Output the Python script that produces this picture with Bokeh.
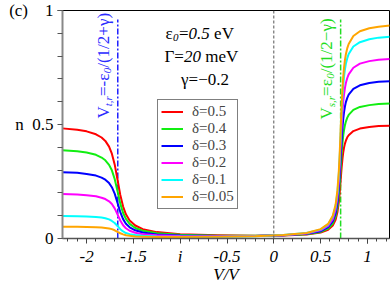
from bokeh.plotting import figure
from bokeh.models import Label, Legend, LegendItem, FixedTicker, Range1d, Span
from bokeh.embed import file_html
from bokeh.resources import INLINE

# ---------------- data ----------------
V = [-2.26, -2.10, -2.00, -1.90, -1.84, -1.80, -1.76, -1.73, -1.70, -1.67,
     -1.64, -1.61, -1.58, -1.54, -1.48, -1.40, -1.25, -1.00, -0.60, -0.20,
     0.10, 0.35, 0.50, 0.58, 0.63, 0.66, 0.68, 0.695, 0.705, 0.715,
     0.725, 0.735, 0.742, 0.75, 0.76, 0.77, 0.785, 0.80, 0.85, 0.92,
     1.02, 1.12, 1.24]

n_d050 = [0.483, 0.477, 0.470, 0.457, 0.443, 0.428, 0.403, 0.372, 0.325, 0.259,
          0.191, 0.140, 0.106, 0.079, 0.057, 0.041, 0.028, 0.019, 0.014, 0.012,
          0.013, 0.018, 0.026, 0.038, 0.057, 0.082, 0.116, 0.161, 0.206, 0.260,
          0.313, 0.355, 0.378, 0.398, 0.416, 0.429, 0.444, 0.453, 0.471, 0.482,
          0.489, 0.493, 0.495]
n_d040 = [0.387, 0.383, 0.377, 0.367, 0.355, 0.343, 0.323, 0.299, 0.261, 0.208,
          0.153, 0.112, 0.086, 0.064, 0.046, 0.034, 0.023, 0.016, 0.012, 0.012,
          0.014, 0.019, 0.029, 0.044, 0.066, 0.097, 0.137, 0.192, 0.245, 0.310,
          0.374, 0.425, 0.452, 0.475, 0.497, 0.513, 0.530, 0.542, 0.564, 0.577,
          0.585, 0.590, 0.592]
n_d030 = [0.291, 0.288, 0.283, 0.276, 0.267, 0.258, 0.243, 0.225, 0.197, 0.157,
          0.116, 0.085, 0.065, 0.049, 0.036, 0.026, 0.018, 0.013, 0.011, 0.011,
          0.014, 0.021, 0.032, 0.050, 0.076, 0.111, 0.158, 0.222, 0.285, 0.361,
          0.435, 0.494, 0.525, 0.553, 0.579, 0.598, 0.617, 0.631, 0.656, 0.672,
          0.682, 0.687, 0.690]
n_d020 = [0.195, 0.193, 0.190, 0.185, 0.179, 0.173, 0.163, 0.151, 0.132, 0.106,
          0.079, 0.058, 0.045, 0.034, 0.025, 0.019, 0.014, 0.011, 0.010, 0.011,
          0.014, 0.022, 0.036, 0.055, 0.085, 0.126, 0.180, 0.252, 0.324, 0.411,
          0.495, 0.563, 0.599, 0.631, 0.660, 0.682, 0.704, 0.720, 0.749, 0.767,
          0.778, 0.784, 0.787]
n_d010 = [0.099, 0.098, 0.097, 0.094, 0.092, 0.089, 0.084, 0.077, 0.068, 0.055,
          0.041, 0.031, 0.024, 0.019, 0.015, 0.012, 0.009, 0.008, 0.008, 0.010,
          0.015, 0.024, 0.039, 0.061, 0.095, 0.140, 0.201, 0.283, 0.364, 0.461,
          0.556, 0.632, 0.673, 0.709, 0.742, 0.766, 0.791, 0.809, 0.842, 0.861,
          0.874, 0.881, 0.885]
n_d005 = [0.051, 0.051, 0.050, 0.049, 0.048, 0.046, 0.044, 0.041, 0.036, 0.029,
          0.023, 0.018, 0.014, 0.012, 0.009, 0.008, 0.007, 0.007, 0.008, 0.010,
          0.015, 0.024, 0.041, 0.064, 0.100, 0.148, 0.212, 0.298, 0.383, 0.486,
          0.587, 0.667, 0.710, 0.748, 0.782, 0.808, 0.835, 0.853, 0.888, 0.909,
          0.922, 0.929, 0.934]

series = [n_d050, n_d040, n_d030, n_d020, n_d010, n_d005]
legend_labels = ["δ=0.5", "δ=0.4", "δ=0.3", "δ=0.2", "δ=0.1", "δ=0.05"]
colors = ["#ff0000", "#11ee11", "#0000ff", "#ff00ff", "#00ffff", "#ffa500"]

v_tr = -1.667      # -eps0/(1/2+gamma)
v_sr = 0.714       # eps0/(1/2-gamma)
marker_top = 0.96

x_ticks = [-2, -1.5, -1, -0.5, 0, 0.5, 1, 1.0001]
x_tick_labels = ["-2", "-1.5", "i", "-0.5", "0", "0.5", "1", ""]
x_minor = [-2.2, -2.1, -1.9, -1.8, -1.7, -1.6, -1.4, -1.3, -1.2, -1.1,
           -0.9, -0.8, -0.7, -0.6, -0.4, -0.3, -0.2, -0.1, 0.1, 0.2,
           0.3, 0.4, 0.6, 0.7, 0.8, 0.9, 1.1, 1.2]
NB = "\u00a0"
y_ticks = [0, 0.5, 1, 0.9999]
# the quantity name "n" and the panel tag "(c)" sit on the rows of 0.5 and 1
y_tick_labels = ["0", "n" + NB * 2 + "0.5", "(c)" + NB * 4 + "1", ""]
y_minor = [0.1, 0.2, 0.3, 0.4, 0.6, 0.7, 0.8, 0.9]

# ---------------- layout ----------------
W, H = 390, 290
BL, BR, BT, BB = 62, 1, 10, 52
XR0, XR1 = -2.2575, 1.2361
FONT = "Liberation Serif"

p = figure(width=W, height=H, output_backend="svg", toolbar_location=None,
           x_range=Range1d(XR0, XR1), y_range=Range1d(0, 1),
           min_border_left=BL, min_border_right=BR,
           min_border_top=BT, min_border_bottom=BB)
p.grid.visible = False
p.outline_line_color = "black"
p.outline_line_width = 1
p.background_fill_color = "white"
p.border_fill_color = "white"

# canvas pixel -> data helpers
FL, FR, FT, FB = BL, W - BR, BT, H - BB


def dx(px):
    return XR0 + (px - FL) * (XR1 - XR0) / (FR - FL)


def dy(py):
    return (FB - py) / (FB - FT)


# x axis
xa = p.xaxis[0]
xa.ticker = FixedTicker(ticks=x_ticks, minor_ticks=x_minor)
xa.major_label_overrides = {t: s for t, s in zip(x_ticks, x_tick_labels)}
xa.major_label_text_font = FONT
xa.major_label_text_font_style = "italic"
xa.major_label_text_font_size = "17px"
xa.major_label_text_color = "black"
xa.major_label_standoff = 3
xa.axis_line_color = "#555555"
xa.axis_line_width = 1.5
xa.major_tick_in = 0
xa.major_tick_out = 5
xa.minor_tick_in = 0
xa.minor_tick_out = 3
xa.major_tick_line_color = "#444444"
xa.minor_tick_line_color = "#444444"
xa.axis_label = "V/V"
xa.axis_label_text_font = FONT
xa.axis_label_text_font_style = "italic"
xa.axis_label_text_font_size = "17px"
xa.axis_label_text_color = "black"
xa.axis_label_standoff = -4

# y axis with its labels
ya = p.yaxis[0]
ya.ticker = FixedTicker(ticks=y_ticks, minor_ticks=y_minor)
ya.major_label_overrides = {t: s for t, s in zip(y_ticks, y_tick_labels)}
ya.major_label_text_font = FONT
ya.major_label_text_font_size = "17px"
ya.major_label_text_color = "black"
ya.major_label_standoff = 4
ya.axis_line_color = "#888888"
ya.axis_line_width = 2
ya.major_tick_in = 0
ya.major_tick_out = 5
ya.minor_tick_in = 0
ya.minor_tick_out = 5
ya.major_tick_line_color = "#555555"
ya.minor_tick_line_color = "#555555"

# zero bias line
p.add_layout(Span(location=0, dimension="height", line_color="#555555",
                  line_dash="3 2", line_width=1))

# threshold lines
p.line([v_tr, v_tr], [0, marker_top], line_color="#2222ff", line_width=1.5,
       line_dash="6 2 2 2")
p.line([v_sr, v_sr], [0, marker_top], line_color="#22dd22", line_width=1.5,
       line_dash="6 2 2 2")

# curves
items = []
for ys, lab, c in zip(series, legend_labels, colors):
    r = p.line(V, ys, line_color=c, line_width=2, line_join="round")
    items.append(LegendItem(label=lab, renderers=[r]))

legend = Legend(items=items, location=(157 - FL, FB - 209),
                label_text_font=FONT, label_text_font_size="15px",
                glyph_width=22, glyph_height=17, label_height=17,
                label_standoff=9, spacing=0, padding=3, margin=0,
                border_line_color="black", border_line_width=1.5,
                background_fill_color="white", background_fill_alpha=1)
p.add_layout(legend)


def txt(s, px, py, size, style="normal", color="black", angle=0, align="left"):
    p.add_layout(Label(x=dx(px), y=dy(py), text=s, text_font=FONT,
                       text_font_size=f"{size}px", text_font_style=style,
                       text_color=color, angle=angle, angle_units="deg",
                       text_align=align, text_baseline="alphabetic"))


# parameter text block
txt("ε", 165, 33, 17)
txt("0", 172.5, 37, 11, "italic")
txt("=", 178.5, 33, 17)
txt("0.5", 188.1, 33, 17, "italic")
txt("eV", 213.6, 33, 17)

txt("Γ", 164, 56, 17)
txt("=", 173.8, 56, 17)
txt("20", 183.4, 56, 17, "italic")
txt("meV", 204.7, 56, 17)

txt("γ=−0.2", 204.5, 79, 17, align="center")

# vertical annotation (blue)
BLUE = "#2a2aff"
txt("V", 103, 118, 17, color=BLUE, angle=90)
txt("t,r", 107, 105.7, 11, "italic", color=BLUE, angle=90)
txt("=-ε", 103, 95.6, 17, color=BLUE, angle=90)
txt("0", 107, 72.8, 11, "italic", color=BLUE, angle=90)
txt("/(1/2+γ)", 103, 67.3, 17, color=BLUE, angle=90)

# vertical annotation (green)
GREEN = "#22dd22"
txt("V", 326, 119, 17, color=GREEN, angle=90)
txt("s,r", 330, 106.7, 11, "italic", color=GREEN, angle=90)
txt("=ε", 326, 95.4, 17, color=GREEN, angle=90)
txt("0", 330, 78.3, 11, "italic", color=GREEN, angle=90)
txt("/(1/2−γ)", 326, 72.8, 17, color=GREEN, angle=90)

open("out.html", "w").write(file_html(p, INLINE))
